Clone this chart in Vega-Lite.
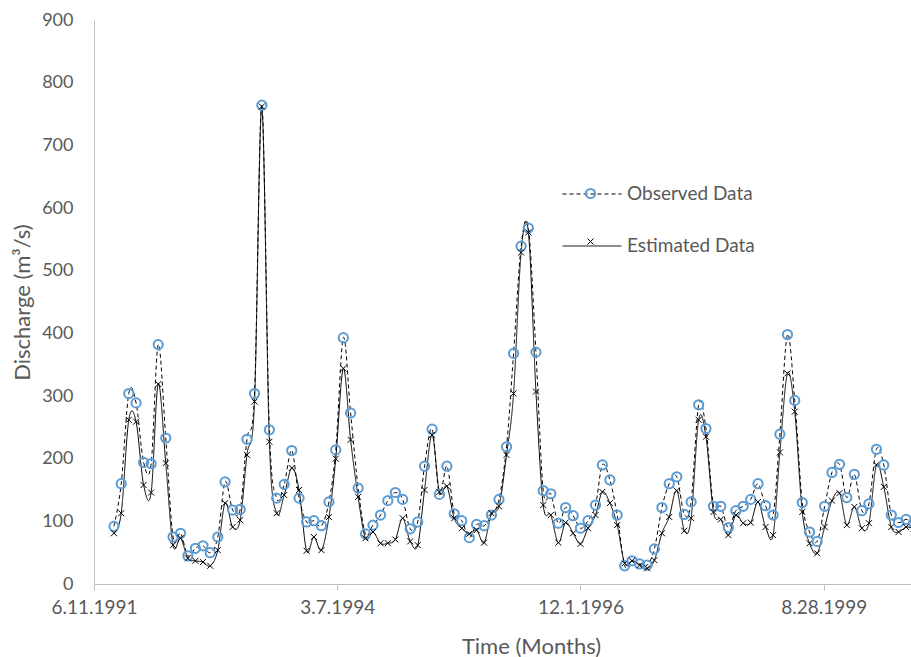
{
  "$schema": "https://vega.github.io/schema/vega-lite/v6.json",
  "width": 817,
  "height": 564,
  "autosize": {"type": "none"},
  "padding": {"left": 94, "top": 20, "right": 0, "bottom": 73},
  "background": "white",
  "config": {
    "view": {"stroke": null},
    "font": "Lato",
    "axis": {"grid": false, "domainColor": "#bfbfbf", "tickColor": "#bfbfbf", "labelFont": "Lato", "labelFontSize": 18, "labelColor": "#595959", "titleFont": "Lato", "titleFontSize": 22, "titleFontWeight": "normal", "titleColor": "#595959"},
    "legend": {"labelFont": "Lato", "labelFontSize": 19, "labelColor": "#595959"}
  },
  "data": {
    "values": [
      {"date": "1991-09-01", "Observed Data": 92, "Estimated Data": 81},
      {"date": "1991-10-01", "Observed Data": 160, "Estimated Data": 113},
      {"date": "1991-11-01", "Observed Data": 304, "Estimated Data": 262},
      {"date": "1991-12-01", "Observed Data": 289, "Estimated Data": 259},
      {"date": "1992-01-01", "Observed Data": 194, "Estimated Data": 158},
      {"date": "1992-02-01", "Observed Data": 192, "Estimated Data": 146},
      {"date": "1992-03-01", "Observed Data": 382, "Estimated Data": 319},
      {"date": "1992-04-01", "Observed Data": 233, "Estimated Data": 193},
      {"date": "1992-05-01", "Observed Data": 75, "Estimated Data": 62},
      {"date": "1992-06-01", "Observed Data": 81, "Estimated Data": 73},
      {"date": "1992-07-01", "Observed Data": 45, "Estimated Data": 41},
      {"date": "1992-08-01", "Observed Data": 57, "Estimated Data": 37},
      {"date": "1992-09-01", "Observed Data": 61, "Estimated Data": 35},
      {"date": "1992-10-01", "Observed Data": 50, "Estimated Data": 29},
      {"date": "1992-11-01", "Observed Data": 75, "Estimated Data": 54},
      {"date": "1992-12-01", "Observed Data": 163, "Estimated Data": 129},
      {"date": "1993-01-01", "Observed Data": 118, "Estimated Data": 91},
      {"date": "1993-02-01", "Observed Data": 119, "Estimated Data": 102},
      {"date": "1993-03-01", "Observed Data": 231, "Estimated Data": 206},
      {"date": "1993-04-01", "Observed Data": 304, "Estimated Data": 291},
      {"date": "1993-05-01", "Observed Data": 764, "Estimated Data": 762},
      {"date": "1993-06-01", "Observed Data": 246, "Estimated Data": 227},
      {"date": "1993-07-01", "Observed Data": 137, "Estimated Data": 113},
      {"date": "1993-08-01", "Observed Data": 159, "Estimated Data": 142},
      {"date": "1993-09-01", "Observed Data": 213, "Estimated Data": 185},
      {"date": "1993-10-01", "Observed Data": 137, "Estimated Data": 150},
      {"date": "1993-11-01", "Observed Data": 99, "Estimated Data": 53},
      {"date": "1993-12-01", "Observed Data": 101, "Estimated Data": 75},
      {"date": "1994-01-01", "Observed Data": 93, "Estimated Data": 54},
      {"date": "1994-02-01", "Observed Data": 131, "Estimated Data": 107},
      {"date": "1994-03-01", "Observed Data": 214, "Estimated Data": 200},
      {"date": "1994-04-01", "Observed Data": 393, "Estimated Data": 344},
      {"date": "1994-05-01", "Observed Data": 273, "Estimated Data": 230},
      {"date": "1994-06-01", "Observed Data": 153, "Estimated Data": 139},
      {"date": "1994-07-01", "Observed Data": 80, "Estimated Data": 73},
      {"date": "1994-08-01", "Observed Data": 94, "Estimated Data": 83},
      {"date": "1994-09-01", "Observed Data": 110, "Estimated Data": 65},
      {"date": "1994-10-01", "Observed Data": 133, "Estimated Data": 65},
      {"date": "1994-11-01", "Observed Data": 146, "Estimated Data": 71},
      {"date": "1994-12-01", "Observed Data": 135, "Estimated Data": 105},
      {"date": "1995-01-01", "Observed Data": 88, "Estimated Data": 68},
      {"date": "1995-02-01", "Observed Data": 99, "Estimated Data": 62},
      {"date": "1995-03-01", "Observed Data": 188, "Estimated Data": 150},
      {"date": "1995-04-01", "Observed Data": 247, "Estimated Data": 238},
      {"date": "1995-05-01", "Observed Data": 143, "Estimated Data": 147},
      {"date": "1995-06-01", "Observed Data": 188, "Estimated Data": 156},
      {"date": "1995-07-01", "Observed Data": 112, "Estimated Data": 105},
      {"date": "1995-08-01", "Observed Data": 101, "Estimated Data": 89},
      {"date": "1995-09-01", "Observed Data": 74, "Estimated Data": 80},
      {"date": "1995-10-01", "Observed Data": 95, "Estimated Data": 86},
      {"date": "1995-11-01", "Observed Data": 93, "Estimated Data": 66},
      {"date": "1995-12-01", "Observed Data": 110, "Estimated Data": 113},
      {"date": "1996-01-01", "Observed Data": 135, "Estimated Data": 124},
      {"date": "1996-02-01", "Observed Data": 219, "Estimated Data": 206},
      {"date": "1996-03-01", "Observed Data": 368, "Estimated Data": 304},
      {"date": "1996-04-01", "Observed Data": 539, "Estimated Data": 529},
      {"date": "1996-05-01", "Observed Data": 568, "Estimated Data": 561},
      {"date": "1996-06-01", "Observed Data": 370, "Estimated Data": 307},
      {"date": "1996-07-01", "Observed Data": 149, "Estimated Data": 126},
      {"date": "1996-08-01", "Observed Data": 144, "Estimated Data": 110},
      {"date": "1996-09-01", "Observed Data": 97, "Estimated Data": 66},
      {"date": "1996-10-01", "Observed Data": 122, "Estimated Data": 98},
      {"date": "1996-11-01", "Observed Data": 109, "Estimated Data": 81},
      {"date": "1996-12-01", "Observed Data": 89, "Estimated Data": 64},
      {"date": "1997-01-01", "Observed Data": 101, "Estimated Data": 89},
      {"date": "1997-02-01", "Observed Data": 126, "Estimated Data": 110},
      {"date": "1997-03-01", "Observed Data": 190, "Estimated Data": 147},
      {"date": "1997-04-01", "Observed Data": 166, "Estimated Data": 129},
      {"date": "1997-05-01", "Observed Data": 110, "Estimated Data": 94},
      {"date": "1997-06-01", "Observed Data": 29, "Estimated Data": 33},
      {"date": "1997-07-01", "Observed Data": 37, "Estimated Data": 37},
      {"date": "1997-08-01", "Observed Data": 32, "Estimated Data": 30},
      {"date": "1997-09-01", "Observed Data": 30, "Estimated Data": 25},
      {"date": "1997-10-01", "Observed Data": 56, "Estimated Data": 38},
      {"date": "1997-11-01", "Observed Data": 122, "Estimated Data": 81},
      {"date": "1997-12-01", "Observed Data": 160, "Estimated Data": 107},
      {"date": "1998-01-01", "Observed Data": 171, "Estimated Data": 149},
      {"date": "1998-02-01", "Observed Data": 111, "Estimated Data": 85},
      {"date": "1998-03-01", "Observed Data": 131, "Estimated Data": 105},
      {"date": "1998-04-01", "Observed Data": 286, "Estimated Data": 262},
      {"date": "1998-05-01", "Observed Data": 248, "Estimated Data": 235},
      {"date": "1998-06-01", "Observed Data": 124, "Estimated Data": 115},
      {"date": "1998-07-01", "Observed Data": 124, "Estimated Data": 103},
      {"date": "1998-08-01", "Observed Data": 90, "Estimated Data": 78},
      {"date": "1998-09-01", "Observed Data": 117, "Estimated Data": 110},
      {"date": "1998-10-01", "Observed Data": 124, "Estimated Data": 97},
      {"date": "1998-11-01", "Observed Data": 135, "Estimated Data": 98},
      {"date": "1998-12-01", "Observed Data": 160, "Estimated Data": 131},
      {"date": "1999-01-01", "Observed Data": 125, "Estimated Data": 91},
      {"date": "1999-02-01", "Observed Data": 110, "Estimated Data": 78},
      {"date": "1999-03-01", "Observed Data": 239, "Estimated Data": 210},
      {"date": "1999-04-01", "Observed Data": 398, "Estimated Data": 336},
      {"date": "1999-05-01", "Observed Data": 293, "Estimated Data": 275},
      {"date": "1999-06-01", "Observed Data": 130, "Estimated Data": 115},
      {"date": "1999-07-01", "Observed Data": 83, "Estimated Data": 65},
      {"date": "1999-08-01", "Observed Data": 68, "Estimated Data": 49},
      {"date": "1999-09-01", "Observed Data": 124, "Estimated Data": 91},
      {"date": "1999-10-01", "Observed Data": 178, "Estimated Data": 133},
      {"date": "1999-11-01", "Observed Data": 191, "Estimated Data": 145},
      {"date": "1999-12-01", "Observed Data": 138, "Estimated Data": 94},
      {"date": "2000-01-01", "Observed Data": 175, "Estimated Data": 123},
      {"date": "2000-02-01", "Observed Data": 117, "Estimated Data": 89},
      {"date": "2000-03-01", "Observed Data": 128, "Estimated Data": 97},
      {"date": "2000-04-01", "Observed Data": 215, "Estimated Data": 190},
      {"date": "2000-05-01", "Observed Data": 190, "Estimated Data": 155},
      {"date": "2000-06-01", "Observed Data": 110, "Estimated Data": 91},
      {"date": "2000-07-01", "Observed Data": 98, "Estimated Data": 83},
      {"date": "2000-08-01", "Observed Data": 103, "Estimated Data": 91},
      {"date": "2000-09-01", "Observed Data": 98, "Estimated Data": 88}
    ]
  },
  "transform": [
    {"fold": ["Observed Data", "Estimated Data"], "as": ["series", "discharge"]}
  ],
  "encoding": {
    "x": {
      "field": "date",
      "type": "temporal",
      "scale": {
        "type": "utc",
        "domain": [
          {"year": 1991, "month": 6, "date": 11, "utc": true},
          {"year": 2000, "month": 8, "date": 21, "utc": true}
        ]
      },
      "axis": {
        "values": [
          {"year": 1991, "month": 6, "date": 11, "utc": true},
          {"year": 1994, "month": 3, "date": 7, "utc": true},
          {"year": 1996, "month": 12, "date": 1, "utc": true},
          {"year": 1999, "month": 8, "date": 28, "utc": true}
        ],
        "format": "%-m.%-d.%Y",
        "labelFlush": false,
        "labelOverlap": false,
        "labelFontSize": 19,
        "tickSize": 6,
        "labelPadding": 8,
        "title": "Time (Months)",
        "titleX": 437,
        "titleY": 62,
        "titleBaseline": "middle",
        "titleAlign": "center"
      }
    },
    "y": {
      "field": "discharge",
      "type": "quantitative",
      "scale": {"domain": [0, 900], "nice": false},
      "axis": {
        "values": [0, 100, 200, 300, 400, 500, 600, 700, 800, 900],
        "ticks": false,
        "tickSize": 0,
        "labelPadding": 21,
        "title": "Discharge (m³/s)",
        "titleX": -72,
        "titleY": 282,
        "titleAngle": -90,
        "titleAlign": "center",
        "titleBaseline": "middle"
      }
    }
  },
  "layer": [
    {
      "mark": {"type": "line", "interpolate": "cardinal", "clip": true, "color": "black", "strokeWidth": 1},
      "encoding": {
        "strokeDash": {
          "field": "series",
          "type": "nominal",
          "scale": {"domain": ["Observed Data", "Estimated Data"], "range": [[4, 3], [1, 0]]},
          "legend": {
            "title": null,
            "orient": "none",
            "legendX": 468,
            "legendY": 144,
            "padding": 0,
            "symbolType": "stroke",
            "symbolSize": 3481,
            "symbolStrokeColor": "black",
            "symbolStrokeWidth": 1,
            "labelOffset": 5,
            "rowPadding": 12
          }
        }
      }
    },
    {
      "mark": {"type": "point", "filled": false, "clip": true, "opacity": 1},
      "encoding": {
        "color": {
          "field": "series",
          "type": "nominal",
          "sort": "descending",
          "scale": {"range": ["#5B9BD5", "black"]},
          "legend": {
            "title": null,
            "orient": "none",
            "legendX": 487,
            "legendY": 164,
            "padding": 0,
            "labelExpr": "''",
            "rowPadding": 28
          }
        },
        "shape": {
          "field": "series",
          "type": "nominal",
          "sort": "descending",
          "scale": {"range": ["circle", "M-1,-1L1,1M1,-1L-1,1"]}
        },
        "size": {
          "field": "series",
          "type": "nominal",
          "sort": "descending",
          "scale": {"range": [85, 36]}
        },
        "strokeWidth": {
          "field": "series",
          "type": "nominal",
          "sort": "descending",
          "scale": {"range": [2, 1]}
        }
      }
    }
  ]
}
